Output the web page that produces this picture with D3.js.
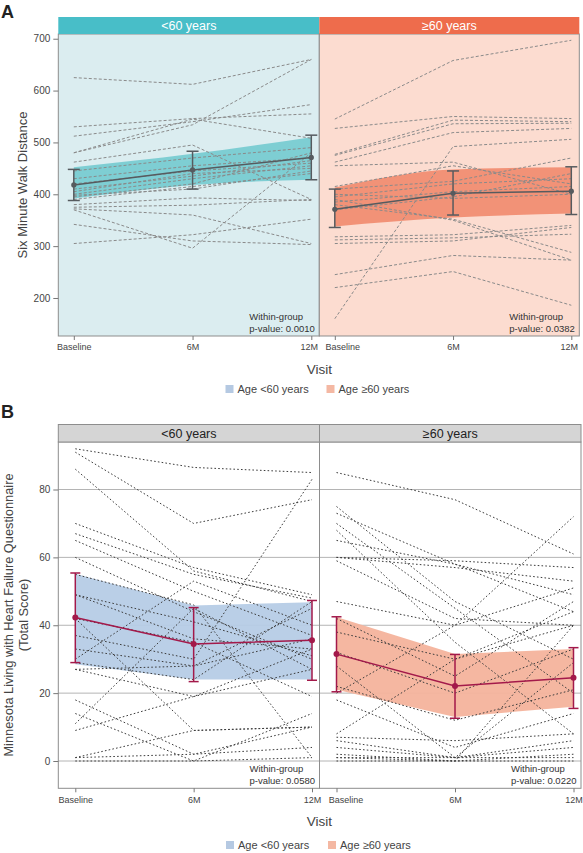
<!DOCTYPE html>
<html><head><meta charset="utf-8">
<script src="https://cdn.jsdelivr.net/npm/d3@7"></script>
<style>
html,body{margin:0;padding:0;background:#fff;}
svg{display:block;font-family:Arial,"Liberation Sans",sans-serif;}
</style></head>
<body><svg id="c" width="583" height="853"></svg>
<script>
// ---------- data ----------
const visits = ["Baseline", "6M", "12M"];
const groups = ["<60 years", "\u226560 years"];
const legendLabels = ["Age <60 years", "Age \u226560 years"];
const walkTicks = [200, 300, 400, 500, 600, 700];
const mlhfqTicks = [0, 20, 40, 60, 80];

// Panel A: Six Minute Walk Distance, individual patients
const walkYoung = [
  [625, 612, 660], [530, 546, 555], [512, 540, 573], [480, 534, 660],
  [462, 495, 390], [445, 470, 490], [430, 455, 470], [420, 445, 460],
  [405, 440, 450], [395, 420, 480], [390, 415, 440], [380, 393, 388],
  [375, 379, 390], [372, 360, 305], [342, 310, 303], [305, 322, 352],
  [370, 296, 480], [398, 410, 445], [400, 430, 455], [480, 545, 508],
  [410, 435, 465]
];
const walkOld = [
  [545, 658, 697], [527, 550, 546], [477, 543, 540], [475, 536, 537],
  [462, 519, 527], [455, 462, 400], [160, 492, 506], [410, 425, 470],
  [245, 282, 273], [220, 251, 186], [318, 322, 340], [312, 316, 323],
  [305, 310, 336], [380, 352, 288], [390, 350, 273], [400, 392, 400],
  [395, 420, 430], [385, 405, 415], [370, 395, 440], [415, 455, 420]
];
const walkMean = [[418, 447, 471], [371, 402, 406]];
const walkLow = [[388, 410, 428], [336, 360, 361]];
const walkHigh = [[448, 483, 514], [410, 445, 453]];
const walkBandLow = [[392, 418, 428], [338, 355, 363]];
const walkBandHigh = [[452, 478, 510], [413, 448, 452]];
const walkP = ["0.0010", "0.0382"];

// Panel B: MLHFQ total score, individual patients
const mlhfqYoung = [
  [92, 86.5, 85], [91, 70, 77], [86, 56, 47], [70, 57, 49], [67, 55, 48],
  [65, 50, 37], [60, 44, 30], [49, 36, 33], [49, 41, 31], [42, 35, 19],
  [30, 53, 40], [33, 28, 45], [29, 24, 47], [27, 28, 36], [27, 19, 27],
  [18, 2, 10], [14, 0, 14], [11, 45, 27], [9, 19, 33], [1, 2, 4],
  [0, 0, 1], [1, 9, 10], [37, 30, 83], [55, 46, 1], [42, 9, 10]
];
const mlhfqOld = [
  [85, 77, 61], [20, 40, 72], [75, 47, 30], [73, 58, 44], [70, 45, 20],
  [68, 35, 8], [65, 58, 49], [60, 59, 57], [60, 57, 53], [59, 42, 40],
  [47, 40, 51], [42, 25, 47], [38, 30, 40], [32, 20, 33], [28, 1, 29],
  [22, 12, 21], [18, 4, 14], [8, 30, 44], [7, 6, 8], [6, 1, 6],
  [4, 1, 4], [1, 0, 2], [1, 1, 1], [0, 0, 0], [2, 0, 40]
];
const mlhfqMean = [[42.3, 34.5, 35.6], [31.5, 22.1, 24.5]];
const mlhfqLow = [[29, 23.4, 23.8], [20.4, 12.6, 15.5]];
const mlhfqHigh = [[55.4, 45.2, 47.3], [42.5, 31.4, 33.4]];
const mlhfqBandLow = [[28.5, 24, 24], [21, 13, 16]];
const mlhfqBandHigh = [[55.2, 45.8, 46.8], [42.4, 31.5, 33]];
const mlhfqP = ["0.0580", "0.0220"];

// ---------- drawing ----------
const svg = d3.select("#c");
const TXT = "#444";

function drawPanelSet(cfg) {
  const g = svg.append("g");
  const y = d3.scaleLinear().domain(cfg.yDomain).range([cfg.bottom, cfg.top]);
  groups.forEach((grp, i) => {
    const x0 = cfg.panelX[i], x1 = cfg.panelX[i + 1];
    const x = d3.scalePoint().domain(visits).range([x0 + cfg.padL, x1 - cfg.padR]);
    const pg = g.append("g");
    pg.append("rect").attr("x", x0).attr("y", cfg.top).attr("width", x1 - x0)
      .attr("height", cfg.bottom - cfg.top).attr("fill", cfg.bg[i]);
    if (cfg.grid) {
      pg.selectAll(".gl").data(cfg.ticks).join("line")
        .attr("x1", x0).attr("x2", x1).attr("y1", d => y(d)).attr("y2", d => y(d))
        .attr("stroke", "#b4b4b4").attr("stroke-width", 1);
    }
    const band = visits.map((v, k) => ({ v, lo: cfg.bandLow[i][k], hi: cfg.bandHigh[i][k] }));
    pg.append("path").datum(band)
      .attr("d", d3.area().x(d => x(d.v)).y0(d => y(d.lo)).y1(d => y(d.hi)).curve(cfg.curve))
      .attr("fill", cfg.ribbon[i]).attr("fill-opacity", cfg.ribbonOpacity);
    const line = d3.line().x((d, k) => x(visits[k])).y(d => y(d));
    pg.selectAll(".ind").data(cfg.lines[i]).join("path")
      .attr("d", d => line(d)).attr("fill", "none")
      .attr("stroke", cfg.lineColor).attr("stroke-width", cfg.lineWidth)
      .attr("stroke-dasharray", cfg.dash);
    pg.append("path").datum(cfg.mean[i]).attr("d", line).attr("fill", "none")
      .attr("stroke", cfg.meanColor).attr("stroke-width", 1.5);
    visits.forEach((v, k) => {
      const cx = x(v);
      pg.append("line").attr("x1", cx).attr("x2", cx)
        .attr("y1", y(cfg.low[i][k])).attr("y2", y(cfg.high[i][k]))
        .attr("stroke", cfg.meanColor).attr("stroke-width", 1.5);
      [cfg.low[i][k], cfg.high[i][k]].forEach(val => {
        pg.append("line").attr("x1", cx - cfg.cap).attr("x2", cx + cfg.cap)
          .attr("y1", y(val)).attr("y2", y(val))
          .attr("stroke", cfg.meanColor).attr("stroke-width", 1.5);
      });
      pg.append("circle").attr("cx", cx).attr("cy", y(cfg.mean[i][k]))
        .attr("r", cfg.pointR).attr("fill", cfg.meanColor);
    });
    const t = pg.append("text").attr("font-size", 9.5).attr("fill", "#333");
    t.append("tspan").attr("x", x1 - 70).attr("y", cfg.bottom - 16).text("Within-group");
    t.append("tspan").attr("x", x1 - 70).attr("y", cfg.bottom - 4).text("p-value: " + cfg.p[i]);
    pg.append("rect").attr("x", x0).attr("y", cfg.top).attr("width", x1 - x0)
      .attr("height", cfg.bottom - cfg.top).attr("fill", "none")
      .attr("stroke", cfg.frame).attr("stroke-width", 1);
    pg.append("rect").attr("x", x0).attr("y", cfg.stripTop).attr("width", x1 - x0)
      .attr("height", cfg.top - cfg.stripTop).attr("fill", cfg.strip[i])
      .attr("stroke", cfg.stripStroke).attr("stroke-width", 1);
    pg.append("text").attr("x", (x0 + x1) / 2).attr("y", cfg.top - 4.5)
      .attr("text-anchor", "middle").attr("font-size", 12.5).attr("fill", cfg.stripText)
      .text(grp);
    const xa = pg.append("g").attr("transform", `translate(0,${cfg.bottom})`)
      .call(d3.axisBottom(x).tickSize(4).tickPadding(4));
    xa.select(".domain").remove();
    xa.selectAll("line").attr("stroke", "#777");
    xa.selectAll("text").attr("font-size", 9).attr("fill", TXT)
      .attr("font-family", "Arial,'Liberation Sans',sans-serif")
      .attr("dx", d => d === "Baseline" ? (i === 1 ? cfg.baseShift : 0) : (d === "12M" ? cfg.endShift : 0));
  });
  const ya = g.append("g").attr("transform", `translate(${cfg.panelX[0]},0)`)
    .call(d3.axisLeft(y).tickValues(cfg.ticks).tickSize(5).tickPadding(3));
  ya.select(".domain").remove();
  ya.selectAll("line").attr("stroke", "#777");
  ya.selectAll("text").attr("font-size", 10).attr("fill", TXT)
    .attr("font-family", "Arial,'Liberation Sans',sans-serif");
  g.append("text").attr("x", cfg.panelX[1]).attr("y", cfg.bottom + 38)
    .attr("text-anchor", "middle").attr("font-size", 13.5).attr("fill", TXT).text("Visit");
  const lg = g.append("g");
  legendLabels.forEach((lab, i) => {
    const lx = cfg.legendX[i];
    lg.append("rect").attr("x", lx).attr("y", cfg.legendY - 8).attr("width", 8).attr("height", 8)
      .attr("fill", cfg.legendFill[i]);
    lg.append("text").attr("x", lx + 12).attr("y", cfg.legendY).attr("font-size", 11)
      .attr("fill", TXT).text(lab);
  });
}

// Panel A
drawPanelSet({
  yDomain: [126.7, 709.1], top: 34, bottom: 336, stripTop: 17,
  panelX: [58.3, 319.3, 579.3], padL: 15.5, padR: 8, ticks: walkTicks,
  bg: ["#dbedf0", "#fcdcd0"], ribbon: ["#5fc3ca", "#ef7a5a"], ribbonOpacity: 0.75,
  strip: ["#48bec8", "#ee6c4c"], stripStroke: "none", stripText: "#fff",
  frame: "#8d8d8d", grid: false, curve: d3.curveMonotoneX,
  lines: [walkYoung, walkOld], lineColor: "#8a8a8a", lineWidth: 1, dash: "3,2",
  mean: walkMean, low: walkLow, high: walkHigh,
  bandLow: walkBandLow, bandHigh: walkBandHigh,
  meanColor: "#565b5f", cap: 6, pointR: 2.6, p: walkP,
  baseShift: 7.5, endShift: -2.5,
  legendX: [225.5, 326.5], legendY: 393, legendFill: ["#b5c9e2", "#f4b8a3"]
});
svg.append("text").attr("transform", "translate(27,185) rotate(-90)")
  .attr("text-anchor", "middle").attr("font-size", 13).attr("fill", TXT)
  .text("Six Minute Walk Distance");
svg.append("text").attr("x", 1).attr("y", 18).attr("font-size", 18).attr("font-weight", "bold")
  .attr("fill", "#222").text("A");

// Panel B
drawPanelSet({
  yDomain: [-8.04, 94], top: 442, bottom: 788.3, stripTop: 424.5,
  panelX: [58.3, 319.5, 581], padL: 17, padR: 7.5, ticks: mlhfqTicks,
  bg: ["#fff", "#fff"], ribbon: ["#b6cce6", "#f4b39c"], ribbonOpacity: 0.95,
  strip: ["#d5d5d5", "#d5d5d5"], stripStroke: "#8d8d8d", stripText: "#222",
  frame: "#8d8d8d", grid: true, curve: d3.curveLinear,
  lines: [mlhfqYoung, mlhfqOld], lineColor: "#3c3c3c", lineWidth: 1, dash: "1.6,2.2",
  mean: mlhfqMean, low: mlhfqLow, high: mlhfqHigh,
  bandLow: mlhfqBandLow, bandHigh: mlhfqBandHigh,
  meanColor: "#a3194a", cap: 5, pointR: 3, p: mlhfqP,
  baseShift: 9, endShift: 0,
  legendX: [226, 328], legendY: 849, legendFill: ["#b5c9e2", "#f4b8a3"]
});
svg.append("text").attr("transform", "translate(13,615) rotate(-90)")
  .attr("text-anchor", "middle").attr("font-size", 12.8).attr("fill", TXT)
  .text("Minnesota Living with Heart Failure Questionnaire");
svg.append("text").attr("transform", "translate(28,615) rotate(-90)")
  .attr("text-anchor", "middle").attr("font-size", 12.8).attr("fill", TXT)
  .text("(Total Score)");
svg.append("text").attr("x", 1).attr("y", 418).attr("font-size", 18).attr("font-weight", "bold")
  .attr("fill", "#222").text("B");
</script>
</body></html>
